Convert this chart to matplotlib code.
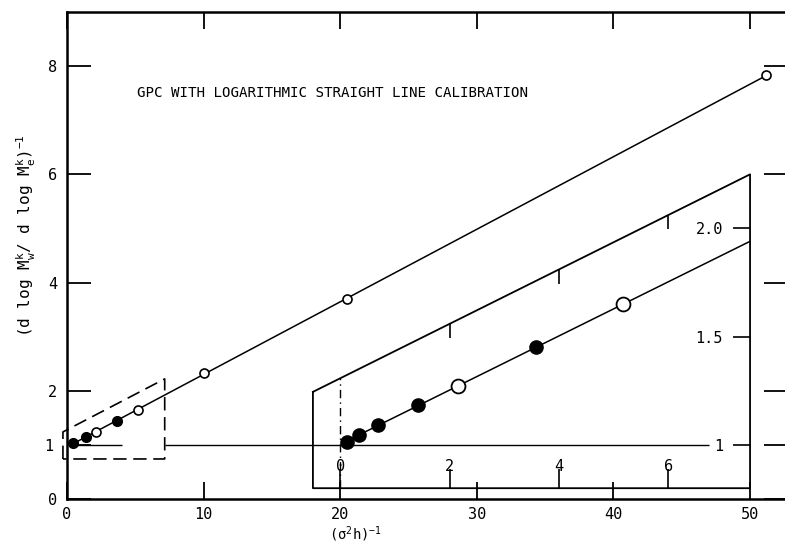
import numpy as np
import matplotlib.pyplot as plt

plt.rcParams['font.family'] = 'DejaVu Sans Mono'
plt.rcParams['mathtext.fontset'] = 'custom'
plt.rcParams['mathtext.rm'] = 'DejaVu Sans Mono'
plt.rcParams['mathtext.it'] = 'DejaVu Sans Mono'

# main plot points
x_filled = np.array([0.42, 1.39, 3.65])
y_filled = np.array([1.04, 1.15, 1.44])
x_open = np.array([2.12, 5.2, 10.0, 20.5, 51.2])
y_open = np.array([1.24, 1.64, 2.33, 3.70, 7.83])

# enlarged region (same x, y values, drawn 4x bigger)
xi_filled = np.array([0.12, 0.34, 0.70, 1.43, 3.59])
yi_filled = np.array([1.015, 1.047, 1.093, 1.183, 1.451])
xi_open = np.array([2.15, 5.18])
yi_open = np.array([1.271, 1.651])

xticks = [0, 10, 20, 30, 40, 50]
yticks = [0, 2, 4, 6, 8]
inset_xticks = [0, 2, 4, 6]
inset_yticks = [1, 1.5, 2.0]
inset_yticklabels = ['1', '1.5', '2.0']

# dashed region marked on the main plot
box_x = [-0.3, -0.3, 7.15, 7.15, -0.3]
box_y = [0.74, 1.24, 2.22, 0.74, 0.74]

# inset frame, in inset data units
inset_xlim = (-0.5, 7.5)
inset_ylim = (0.8, 2.25)
inset_top_left = 1.245

title = 'GPC WITH LOGARITHMIC STRAIGHT LINE CALIBRATION'

fig = plt.figure(figsize=(7.85, 5.44), dpi=100)
ax = fig.add_axes([0.0854, 0.0827, 0.9188, 0.8952])
ax.set_xlim(0, 52.8)
ax.set_ylim(0, 9)

for s in ax.spines.values():
    s.set_linewidth(1.8)

ax.set_xticks(xticks)
ax.set_yticks(yticks)
ax.set_yticks([1], labels=['1'], minor=True)
ax.tick_params(axis='both', which='both', direction='in', top=True, right=True,
               width=1.3, labelsize=11)
ax.tick_params(axis='x', length=12, pad=6)
ax.tick_params(axis='y', which='major', length=17, pad=7)
ax.tick_params(axis='y', which='minor', length=17, pad=10)

# fitted line through all main points
x_all = np.concatenate([x_filled, x_open])
y_all = np.concatenate([y_filled, y_open])
coef = np.polyfit(x_all, y_all, 1)
xs = np.array([x_all.min(), x_all.max()])
ax.plot(xs, np.polyval(coef, xs), color='black', lw=1.1, zorder=2)
ax.plot(x_filled, y_filled, 'o', ms=7, color='black', zorder=3)
ax.plot(x_open, y_open, 'o', ms=6.5, mfc='white', mec='black', mew=1.2, zorder=3)

# y = 1 reference
ax.hlines(1, 0.3, 4.0, color='black', lw=1.0)
ax.hlines(1, 7.2, 47.0, color='black', lw=1.0)

ax.plot(box_x, box_y, color='black', lw=1.2, ls=(0, (8, 4)), clip_on=False)

ax.text(5.1, 7.5, title, fontsize=10.2, va='center', ha='left')

ax.set_xlabel('(σ$^2$h)$^{-1}$', fontsize=10)
ax.xaxis.set_label_coords(0.40, -0.052)
ax.set_ylabel(r'(d log M$_w^k$/ d log M$_e^k$)$^{-1}$', fontsize=11.5)
ax.yaxis.set_label_coords(-0.040, 0.54)

# enlarged inset
ax_in = ax.inset_axes([18, 0.2, 32, 5.8], transform=ax.transData)
ax_in.set_xlim(*inset_xlim)
ax_in.set_ylim(*inset_ylim)
ax_in.patch.set_visible(False)
for s in ax_in.spines.values():
    s.set_visible(False)

f_tl = (inset_top_left - inset_ylim[0]) / (inset_ylim[1] - inset_ylim[0])
ax_in.plot([0, 0, 1, 1, 0], [f_tl, 0, 0, 1, f_tl], transform=ax_in.transAxes,
           color='black', lw=1.3, clip_on=False)

def top_edge(u):
    return inset_top_left + (inset_ylim[1] - inset_top_left) * (u - inset_xlim[0]) / (inset_xlim[1] - inset_xlim[0])

ax_in.vlines(0, inset_ylim[0], top_edge(0), color='black', lw=1.0, ls=(0, (6, 3, 1, 3)))
for u in inset_xticks[1:]:
    ax_in.vlines(u, top_edge(u) - 0.065, top_edge(u), color='black', lw=1.2)

ax_in.set_xticks(inset_xticks)
ax_in.tick_params(axis='x', direction='in', length=14, width=1.2, pad=-21, labelsize=11)
ax_in.yaxis.tick_right()
ax_in.set_yticks(inset_yticks, inset_yticklabels, ha='right')
ax_in.tick_params(axis='y', direction='in', length=12, width=1.2, pad=-19.5, labelsize=11)

ci = np.polyfit(np.concatenate([xi_filled, xi_open]), np.concatenate([yi_filled, yi_open]), 1)
us = np.array([xi_filled.min(), inset_xlim[1]])
ax_in.plot(us, np.polyval(ci, us), color='black', lw=1.1, zorder=2)
ax_in.plot(xi_filled, yi_filled, 'o', ms=9.5, color='black', zorder=3)
ax_in.plot(xi_open, yi_open, 'o', ms=10, mfc='white', mec='black', mew=1.3, zorder=3)

fig.savefig('out.png', dpi=100)
